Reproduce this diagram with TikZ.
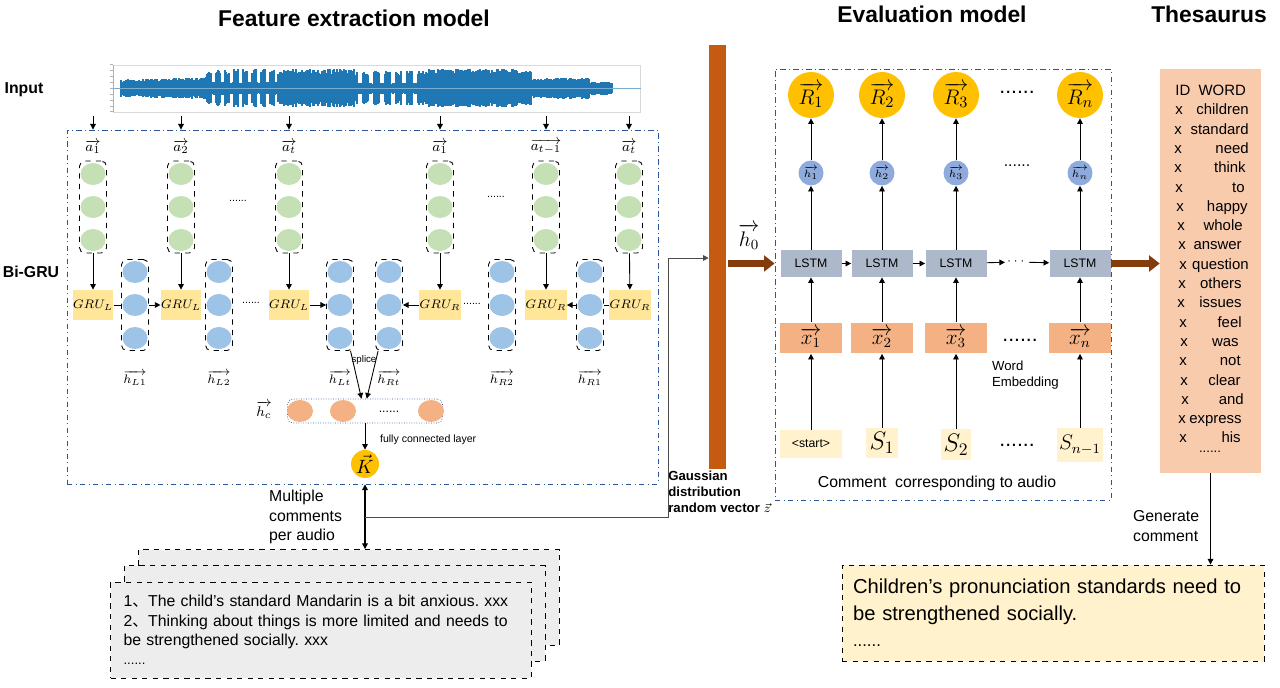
\documentclass[tikz,border=0pt]{standalone}
\usepackage{amsmath}
\usepackage[no-math]{fontspec}
\setmainfont{Liberation Sans}
\newfontfamily\cjk{Noto Sans CJK SC}
\usetikzlibrary{positioning,arrows.meta,shapes.geometric}

\definecolor{frameblue}{HTML}{2F5597}
\definecolor{greencirc}{HTML}{C5E0B4}
\definecolor{bluecirc}{HTML}{9DC3E6}
\definecolor{grufill}{HTML}{FFE699}
\definecolor{peach}{HTML}{F4B183}
\definecolor{gold}{HTML}{FFC000}
\definecolor{hblue}{HTML}{8FAADC}
\definecolor{lstmgray}{HTML}{ADB9CA}
\definecolor{lightyellow}{HTML}{FFF2CC}
\definecolor{thesfill}{HTML}{F8CBAD}
\definecolor{commgray}{HTML}{EDEDED}
\definecolor{barorange}{HTML}{C55A11}
\definecolor{brownarr}{HTML}{843C0C}
\definecolor{wavecol}{HTML}{1F77B4}

\newcommand\fsz[2]{\fontsize{#1}{#2}\selectfont}

\tikzset{
  flowarrow/.style={-{Triangle[length=3.2pt,width=3.2pt]}, line width=0.5pt},
  twoarrow/.style={{Triangle[length=3.2pt,width=3.2pt]}-{Triangle[length=3.2pt,width=3.2pt]}, line width=0.6pt},
  link/.style={line width=0.5pt},
  bigarrow/.style={-{Triangle[length=6pt,width=9pt]}, line width=4.5pt, draw=brownarr},
  modelbox/.style={draw=frameblue, dash dot, line width=0.5pt, inner sep=0pt},
  colbox/.style={draw, dashed, rounded corners=3pt, line width=0.5pt, minimum width=0.54cm, minimum height=1.84cm, inner sep=0pt},
  gdot/.style={ellipse, fill=greencirc, minimum width=0.5cm, minimum height=0.44cm, inner sep=0pt},
  bdot/.style={ellipse, fill=bluecirc, minimum width=0.5cm, minimum height=0.44cm, inner sep=0pt},
  odot/.style={ellipse, fill=peach, minimum width=0.52cm, minimum height=0.44cm, inner sep=0pt},
  grubox/.style={fill=grufill, minimum width=0.8cm, minimum height=0.6cm, inner sep=0pt, font=\fsz{7}{8}},
  lstmbox/.style={fill=lstmgray, minimum width=1.22cm, minimum height=0.54cm, inner sep=0pt, font=\fsz{7}{8}},
  embbox/.style={fill=peach, minimum width=1.24cm, minimum height=0.62cm, inner sep=0pt, font=\fsz{12}{14}},
  wordbox/.style={fill=lightyellow, inner sep=1pt},
  outcirc/.style={circle, fill=gold, minimum size=0.92cm, inner sep=0pt, font=\fsz{13}{15}},
  hidcirc/.style={circle, fill=hblue, minimum size=0.5cm, inner sep=0pt, font=\fsz{6.5}{7}},
  commbox/.style={draw, dashed, line width=0.5pt, fill=commgray, minimum width=8.42cm, minimum height=1.92cm},
  vlabel/.style={font=\fsz{8}{9}},
  dotsmall/.style={font=\fsz{6}{7}},
  dotbig/.style={font=\fsz{12}{14}},
  heading/.style={font=\fsz{13}{15}\bfseries},
  sidelabel/.style={font=\fsz{9}{11}\bfseries},
  plaintext/.style={font=\fsz{9}{11}, align=left},
  wordcell/.style={font=\fsz{8.5}{10}, text height=1.6ex, text depth=0.4ex, inner sep=0pt}
}

\begin{document}
\frenchspacing
\begin{tikzpicture}[x=0.02cm, y=-0.02cm, every node/.style={inner sep=1pt}]
  \useasboundingbox (0,0) rectangle (1280,688);

  \node[heading] (t1) at (354,18) {Feature extraction model};
  \node[heading] (t2) at (932,14) {Evaluation model};
  \node[heading] (t3) at (1209,14) {Thesaurus};
  \node[sidelabel] (inp) at (24,90) {Input};
  \node[sidelabel] (bigru) at (31,272) {Bi-GRU};

  % audio waveform
  \node[draw=gray!30, line width=0.3pt, minimum width=10.54cm, minimum height=0.94cm, inner sep=0pt] (wave) at (377,88.5) {};
  \draw[gray!60, line width=0.4pt] (wave.north west) -- (wave.south west);
  \foreach \k in {0,...,8}
    \draw[gray!60, line width=0.3pt] ([yshift=-\k*0.1175cm]wave.north west) -- ++(-2pt,0);
  \pgfmathsetseed{7}
  \foreach \x in {121,...,612}{
    \pgfmathsetmacro\env{(9+(\x-121)/40)*(\x<207) + (\x>=207)*(\x<278)*(7+13*(mod(\x,9)<5)) + (\x>=278)*(\x<355)*19.5 + (\x>=355)*(\x<425)*(6+12*(mod(\x,11)<6)) + (\x>=425)*(\x<532)*20 + (\x>=532)*(\x<590)*11 + (\x>=590)*7}
    \pgfmathsetmacro\amp{\env*(0.72+0.28*rnd)}
    \draw[wavecol, line width=0.7pt] (\x,{88.5-\amp}) -- (\x,{88.5+0.95*\amp});
  }
  \draw[wavecol!60, line width=0.5pt] (wave.west) -- (wave.east);

  \node[modelbox, minimum width=11.82cm, minimum height=7.08cm] (fex) at (362.5,307) {};
  \node[modelbox, minimum width=6.72cm, minimum height=8.62cm] (ev) at (943,284.5) {};

  % Bi-GRU
  \foreach \nm/\cx/\lab in {g1/93/1, g2/181/2, g3/289/t, g4/440/1, g5/546/{t-1}, g6/629/t}{
    \node[colbox] (\nm) at (\cx,207) {};
    \foreach \dy [count=\k] in {-33,0,33}
      \node[gdot] (\nm c\k) at (\cx,207+\dy) {};
    \node[vlabel] (\nm lab) at (\cx,147) {$\overrightarrow{a_{\lab}}$};
    \draw[flowarrow, shorten <=2pt] (wave.south -| \nm) -- (fex.north -| \nm);
  }
  \foreach \nm/\cx/\lab in {b1/135/{L1}, b2/219/{L2}, b3/340/{Lt}, b4/389/{Rt}, b5/502/{R2}, b6/590/{R1}}{
    \node[colbox, minimum height=1.82cm] (\nm) at (\cx,305) {};
    \foreach \dy [count=\k] in {-33,0,33}
      \node[bdot] (\nm c\k) at (\cx,305+\dy) {};
    \node[font=\fsz{7.5}{9}] (\nm lab) at (\cx,378) {$\overrightarrow{h_{\lab}}$};
  }
  \foreach \nm/\cx/\side in {gl1/93/L, gl2/181/L, gl3/289/L, gr1/440/R, gr2/546/R, gr3/630/R}
    \node[grubox] (\nm) at (\cx,305) {$GRU_\side$};
  \foreach \a/\b in {g1/gl1, g2/gl2, g3/gl3, g4/gr1, g5/gr2, g6/gr3}
    \draw[flowarrow] (\a) -- (\b);
  \draw[link] (gl1) -- (b1);
  \draw[flowarrow] (b1) -- (gl2);
  \draw[flowarrow] (gl3) -- (b3);
  \draw[flowarrow] (gr1) -- (b4);
  \draw[link] (gr3) -- (b6);
  \draw[flowarrow] (b6) -- (gr2);
  \node[dotsmall] (dl1) at (238,201) {......};
  \node[dotsmall] (dl2) at (251,303) {......};
  \node[dotsmall] (dr1) at (496,197) {......};
  \node[dotsmall] (dr2) at (472,304) {......};

  % splice and fully connected layer
  \node[draw=frameblue, densely dotted, rounded corners=3pt, minimum width=3.1cm, minimum height=0.48cm, inner sep=0pt] (hc) at (365,411) {};
  \foreach \nm/\cx in {o1/300, o2/343, o3/431}
    \node[odot] (\nm) at (\cx,411) {};
  \node[font=\fsz{7}{8}] (hcdots) at (389,412) {......};
  \node[vlabel] (hclab) at (264,410) {$\overrightarrow{h_c}$};
  \draw[flowarrow] (b3) -- ([xshift=-2pt]hc.north);
  \draw[flowarrow] (b4) -- ([xshift=1pt]hc.north);
  \node[font=\fsz{5.5}{6}] (splice) at (364,360) {splice};
  \node[circle, fill=gold, minimum size=0.56cm, inner sep=0pt, font=\fsz{11}{12}] (kk) at (365,464) {$\vec{K}$};
  \draw[flowarrow] (hc) -- (kk);
  \node[anchor=west, font=\fsz{6}{7}] (fcl) at (378,440) {fully connected layer};

  % evaluation model
  \foreach \i/\cx/\s in {1/811/1, 2/882/2, 3/956/3, 4/1080/n}{
    \node[outcirc] (r\i) at (\cx,95) {$\overrightarrow{R_\s}$};
    \node[hidcirc] (h\i) at (\cx,173) {$\overrightarrow{h_\s}$};
    \node[lstmbox] (l\i) at (\cx,263.5) {LSTM};
    \node[embbox] (x\i) at (\cx,338) {$\overrightarrow{x_\s}$};
  }
  \node[wordbox, minimum width=1.24cm, minimum height=0.56cm, font=\fsz{7}{8}] (s1) at (811,444) {<start>};
  \node[wordbox, minimum width=0.64cm, minimum height=0.6cm, font=\fsz{14}{16}] (s2) at (882,443) {$S_1$};
  \node[wordbox, minimum width=0.6cm, minimum height=0.62cm, font=\fsz{14}{16}] (s3) at (956,444.5) {$S_2$};
  \node[wordbox, minimum width=0.74cm, minimum height=0.68cm, font=\fsz{12}{14}] (s4) at (1080,445) {$S_{n-1}$};
  \foreach \i in {1,...,4}{
    \draw[flowarrow] (s\i) -- (x\i);
    \draw[flowarrow] (x\i) -- (l\i);
    \draw[flowarrow] (l\i) -- (h\i);
    \draw[flowarrow] (h\i) -- (r\i);
  }
  \node[font=\fsz{7}{8}] (ldots) at (1017,262) {$\cdots$};
  \draw[flowarrow] (l1) -- (l2);
  \draw[flowarrow] (l2) -- (l3);
  \draw[flowarrow] (l3) -- (ldots);
  \draw[flowarrow] (ldots) -- (l4);
  \node[dotbig] (rdots) at (1017,92) {......};
  \node[font=\fsz{9}{10}] (hdots) at (1017,166) {......};
  \node[dotbig] (xdots) at (1020,340) {......};
  \node[dotbig] (sdots) at (1017,445) {......};
  \node[anchor=west, align=left, font=\fsz{7.5}{9}] (wemb) at (990,375) {Word\\Embedding};
  \node[font=\fsz{9}{11}] (ctext) at (937,483) {Comment\ \ corresponding to audio};

  % random vector z and h0
  \node[fill=barorange, minimum width=0.34cm, minimum height=8.48cm, inner sep=0pt] (bar) at (717.5,257) {};
  \node[font=\fsz{12}{14}] (h0) at (749,237) {$\overrightarrow{h_0}$};
  \draw[bigarrow, shorten <=1pt] (bar.east |- l1) -- (ev.west |- l1);
  \node[anchor=north west, align=left, font=\fsz{7.5}{9}\bfseries, inner sep=0pt] (gauss) at (668,471) {Gaussian\\distribution\\random vector $\vec{z}$};

  % comments per audio
  \node[anchor=west, plaintext] (multi) at (267,517) {Multiple\\comments\\per audio};
  \node[commbox] (cm3) at (349,597.5) {};
  \node[commbox] (cm2) at (334.5,613.5) {};
  \node[commbox, text width=7.9cm, inner xsep=0.25cm, align=left, font=\fsz{9}{11}] (cm1) at (321,630) {1{\cjk 、}The child's standard Mandarin is a bit anxious. xxx\\2{\cjk 、}Thinking about things is more limited and needs to\\be strengthened socially. xxx\\{\fsz{7.5}{9}......}};
  \draw[twoarrow] (fex.south -| kk) -- (cm3.north -| kk);
  \coordinate (split) at (365,517);
  \coordinate (zin) at (668,258);
  \draw[flowarrow, draw=black!70] (split) -| (zin) -- (zin -| bar.west);

  % thesaurus
  \node[fill=thesfill, minimum width=2.02cm, minimum height=8.08cm, inner sep=0pt] (th) at (1210.5,271) {};
  \node[wordcell, anchor=west] (hdr) at (1175,90) {ID\ \ WORD};
  \foreach \w/\cx/\rx [count=\i] in {children/1179/1249, standard/1178/1249, need/1178/1249, think/1178/1246, to/1179/1245, happy/1180/1248, whole/1181/1243, answer/1182/1242, question/1183/1249, others/1182/1242, issues/1181/1242, feel/1183/1242, was/1184/1239, not/1183/1241, clear/1184/1241, and/1185/1244, express/1182/1242, his/1183/1241}{
    \node[wordcell] (xid\i) at (\cx,{90+19.3*\i}) {x};
    \node[wordcell, anchor=east] (wd\i) at (\rx,{90+19.3*\i}) {\w};
  }
  \node[font=\fsz{7.5}{9}] (thdots) at (1210,452) {......};
  \draw[bigarrow] (l4.east) -- (th.west |- l4);

  % generated comment
  \node[draw, dashed, line width=0.5pt, fill=lightyellow, text width=8.0cm, inner xsep=0.22cm, minimum height=1.92cm, align=left, font=\fsz{11.5}{15}] (fin) at (1053,613) {Children's pronunciation standards need to\\be strengthened socially.\\{\fsz{9.5}{12}......}};
  \draw[flowarrow] (th.south) -- (th.south |- fin.north);
  \node[anchor=west, plaintext] (gen) at (1131,526) {Generate\\comment};
\end{tikzpicture}
\end{document}
